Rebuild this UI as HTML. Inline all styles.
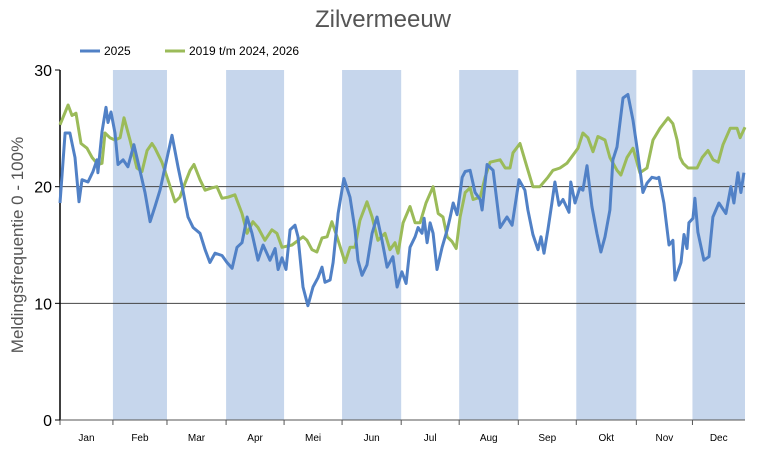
<!DOCTYPE html>
<html><head><meta charset="utf-8"><style>
body{margin:0;background:#fff;font-family:"Liberation Sans",sans-serif}
svg text{font-family:"Liberation Sans",sans-serif}
</style></head><body>
<svg id="c" width="765" height="450" xmlns="http://www.w3.org/2000/svg"></svg>
<script>
const months=["Jan","Feb","Mar","Apr","Mei","Jun","Jul","Aug","Sep","Okt","Nov","Dec"];
const monthStarts=[0,28.2,57,88.5,119.4,150.3,181.8,212.7,244.2,275.1,307.1,337];
const yTicks=[0,10,20,30];
const days2025=[0,2.7,5.3,8,10.1,11.7,14.9,17.6,19.7,20.2,22.4,24.5,25.6,27.2,29.3,30.9,33.6,36.2,39.4,42.6,45.3,48,50.6,53.3,56,59.7,62.9,65.5,68.2,70.9,74.6,77.3,79.9,82.6,86.3,89,91.7,94.3,97,99.7,102.3,105.5,108.2,111.9,114.6,116.2,118.3,120.4,122.6,125.2,126.8,129.5,132.1,134.8,137.5,139.6,141.2,143.9,145.5,148.2,151.3,154.5,157.2,158.8,160.9,163.6,166.3,168.9,171.6,174.3,177.4,179.6,182.2,184.4,186.5,189.2,190.8,192.9,194,195.6,197.2,198.8,200.9,203.6,206.3,207.9,209.5,211.6,214.3,215.9,218.5,221.2,223.9,224.9,227.6,230.8,234.5,238.2,240.9,244.6,247.7,249.3,252,254.7,256.3,257.9,260,262.1,263.7,265.9,268,271.2,272.2,274.4,277,278.6,280.8,283.4,286.1,288.2,290.4,293,294.6,296.8,298.4,300,302.6,305.3,307.4,309.6,310.6,312.8,315.4,318.1,319.1,321.8,324.5,326.6,327.7,330.9,332.5,334.1,335.1,337.3,338.3,339.9,343.1,345.8,347.9,351.1,354.8,357.5,359.1,361.2,362.8,364.4];
const values2025=[18.6,24.6,24.6,22.5,18.7,20.6,20.4,21.3,22.3,21.2,24.7,26.8,25.5,26.4,24.6,21.9,22.3,21.7,23.6,21.4,19.5,17.0,18.3,19.7,21.7,24.4,21.7,19.7,17.4,16.5,16.0,14.6,13.5,14.3,14.1,13.5,13.0,14.8,15.2,17.4,16.0,13.7,15.0,13.7,14.7,12.9,13.9,12.9,16.3,16.7,15.7,11.4,9.8,11.4,12.2,13.1,11.8,12.0,13.5,17.7,20.7,19.1,16.3,13.7,12.4,13.3,16.0,17.4,15.4,13.1,14.0,11.4,12.7,11.7,14.8,15.7,16.5,16.0,17.3,15.2,16.9,16.0,12.9,14.8,16.3,17.4,18.6,17.6,20.8,21.3,21.4,19.5,18.9,18.0,21.9,21.4,16.5,17.4,16.7,20.6,19.7,18.0,15.9,14.6,15.7,14.3,16.3,18.6,20.4,18.4,18.9,17.8,20.4,18.6,19.9,19.7,21.8,18.3,16.0,14.4,15.7,18.0,22.3,23.4,25.5,27.6,27.9,25.7,23.4,20.8,19.5,20.3,20.8,20.7,20.8,18.6,15.0,15.4,12.0,13.5,15.9,14.7,16.9,17.3,19.0,16.1,13.7,14.0,17.4,18.6,17.7,20.0,18.6,21.2,19.5,21.2];
const daysOther=[0,4.3,6.4,8.5,11.2,14.4,17.1,20.2,22.4,24,26.6,29.3,32,34.1,37.3,41,43.7,46.4,49,50.6,54.3,57.5,61.3,63.9,66.6,69.3,71.4,74.6,77.3,81,83.6,86.3,89.5,93.2,97,99.7,102.8,105.5,109.2,112.9,115.6,118.3,123.6,129.5,131.6,134.3,136.9,139.6,142.3,144.9,147.6,151.9,154.5,157.2,159.8,163.6,166.3,169.4,173.2,175.8,178.5,180.1,182.8,186.5,189.2,191.9,195,198.8,201.5,204.1,206.3,208.9,211.1,213.2,215.9,218.5,220.1,223.9,226.5,229.2,234.5,237.2,239.8,241.4,245.1,248.8,252,255.7,260,262.7,266.4,270.1,273.3,276,278.6,281.3,284,286.6,290.4,293,296.8,298.9,302.1,305.3,309,312.8,316,319.7,324,326.6,328.8,330.4,332,334.7,339.5,342.2,345.3,348,350.7,353.3,357.1,360.8,362.4,365];
const valuesOther=[25.3,27,26.1,26.3,23.7,23.3,22.5,21.9,22.0,24.6,24.2,24.0,24.2,25.9,24.0,21.6,21.3,23.1,23.7,23.3,22.1,20.6,18.7,19.1,20.3,21.4,21.9,20.6,19.7,19.9,20.0,19.0,19.1,19.3,17.7,16.0,17.0,16.5,15.4,16.3,16.0,14.8,15.0,15.7,15.4,14.6,14.4,15.6,15.7,17.0,15.7,13.5,14.8,14.8,17.1,18.7,17.4,15.4,16.0,14.6,15.2,14.3,16.9,18.3,16.9,16.9,18.6,20.0,17.7,17.4,15.7,15.3,14.7,17.4,19.5,19.9,18.9,19.1,20.8,22.1,22.3,21.6,21.6,22.9,23.7,21.7,20.0,20.0,20.8,21.4,21.6,22.0,22.7,23.3,24.6,24.2,23.0,24.3,24.0,22.5,21.4,21.0,22.5,23.3,21.2,21.6,24.0,25.0,25.9,25.4,24.0,22.5,22.0,21.6,21.6,22.5,23.1,22.3,22.1,23.6,25.0,25.0,24.2,25.1];

const L=60,R=745,T=70,B=420,DAYS=365,YMAX=30;
const xs=d=>L+d/DAYS*(R-L);
const ys=v=>B-v/YMAX*(B-T);
const svg=document.getElementById('c');
const NS='http://www.w3.org/2000/svg';
function mk(tag,attrs,parent){const e=document.createElementNS(NS,tag);for(const k in attrs)e.setAttribute(k,attrs[k]);(parent||svg).appendChild(e);return e;}

// bands
months.forEach((m,i)=>{
  const x0=xs(monthStarts[i]),x1=i<11?xs(monthStarts[i+1]):R;
  if(i%2===1){
    const r=mk('rect',{x:x0,y:T,width:x1-x0,height:B-T,fill:'#c6d6ec'});
    
    
  }
  const t=mk('text',{x:(x0+x1)/2,y:441,'font-size':10,'text-anchor':'middle',fill:'#000'});
  t.textContent=m;
  
  
  const tk=mk('line',{x1:x0,x2:x0,y1:B,y2:B+5,stroke:'#555','stroke-width':1});
  
  
});
// grid + y labels
yTicks.forEach(v=>{
  if(v>0&&v<YMAX){
    const g=mk('line',{x1:L,x2:R,y1:ys(v),y2:ys(v),stroke:'#444','stroke-width':1});
    
    
  }
  const tk=mk('line',{x1:L-5,x2:L,y1:ys(v),y2:ys(v),stroke:'#000','stroke-width':1});
  
  
  const t=mk('text',{x:L-8,y:ys(v)+6,'font-size':16,'text-anchor':'end',fill:'#000'});
  t.textContent=v;
  
  
});
const ax=mk('line',{x1:L,x2:L,y1:T,y2:B,stroke:'#000','stroke-width':1.5});


const bx=mk('line',{x1:L,x2:R,y1:B,y2:B,stroke:'#555','stroke-width':1});



function line(ds,vs,color,name){
  const n=Math.min(ds.length,vs.length);
  let d='';
  for(let i=0;i<n;i++)d+=(i?'L':'M')+xs(ds[i]).toFixed(1)+','+ys(vs[i]).toFixed(1);
  const p=mk('path',{d:d,fill:'none',stroke:color,'stroke-width':3,'stroke-linejoin':'round'});
  
  
}
line(daysOther,valuesOther,'#9bbb59','series-2019-2024-2026');
line(days2025,values2025,'#5181c6','series-2025');

// title
const ti=mk('text',{x:383,y:27,'font-size':24,'text-anchor':'middle',fill:'#555'});
ti.textContent='Zilvermeeuw';


// y title
const yt=mk('text',{x:0,y:0,'font-size':17,'text-anchor':'middle',fill:'#555',transform:'translate(23,245) rotate(-90)'});
yt.textContent='Meldingsfrequentie 0 - 100%';


// legend
const l1=mk('line',{x1:80,x2:100,y1:51,y2:51,stroke:'#5181c6','stroke-width':3});


const lt1=mk('text',{x:104,y:55,'font-size':12,fill:'#000'});
lt1.textContent='2025';


const l2=mk('line',{x1:165,x2:185,y1:51,y2:51,stroke:'#9bbb59','stroke-width':3});


const lt2=mk('text',{x:189,y:55,'font-size':12,fill:'#000'});
lt2.textContent='2019 t/m 2024, 2026';


</script>
</body></html>
